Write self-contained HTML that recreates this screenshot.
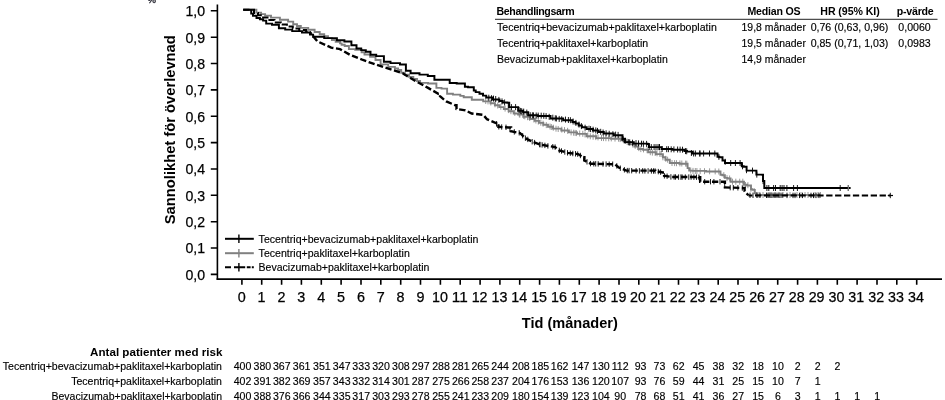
<!DOCTYPE html>
<html lang="sv">
<head>
<meta charset="utf-8">
<title>Kaplan-Meier: Sannolikhet för överlevnad</title>
<style>
html,body{margin:0;padding:0;background:#fff;}
body{width:945px;height:400px;overflow:hidden;}
svg{display:block;font-family:"Liberation Sans", Arial, sans-serif;}
text{fill:#000;}
.tk{font-size:14.7px;stroke:#000;stroke-width:0.25px;}
.ax{font-size:14.6px;font-weight:bold;}
.sm{font-size:10.6px;fill:#000;stroke:#000;stroke-width:0.15px;}
.hd{font-size:10.6px;font-weight:bold;}
.rk{font-size:11.5px;font-weight:bold;}
</style>
</head>
<body>
<svg width="945" height="400" viewBox="0 0 945 400">
<rect width="945" height="400" fill="#fff"/>
<text x="147.6" y="3.2" font-size="9.5" fill="#223" stroke="#223" stroke-width="0.3">%</text>
<g stroke="#000" stroke-width="1.6" fill="none" stroke-linecap="butt">
<path d="M217.4 4.5V279.8"/>
<path d="M216.6 279.15H942" stroke-width="1.7"/>
<path d="M210.8 274.4H217.4M210.8 248.0H217.4M210.8 221.7H217.4M210.8 195.3H217.4M210.8 169.0H217.4M210.8 142.6H217.4M210.8 116.2H217.4M210.8 89.9H217.4M210.8 63.5H217.4M210.8 37.2H217.4M210.8 10.8H217.4"/>
<path d="M241.9 279.2V284.8M261.7 279.2V284.8M281.6 279.2V284.8M301.4 279.2V284.8M321.3 279.2V284.8M341.1 279.2V284.8M361.0 279.2V284.8M380.8 279.2V284.8M400.7 279.2V284.8M420.5 279.2V284.8M440.4 279.2V284.8M460.2 279.2V284.8M480.1 279.2V284.8M499.9 279.2V284.8M519.7 279.2V284.8M539.6 279.2V284.8M559.4 279.2V284.8M579.3 279.2V284.8M599.1 279.2V284.8M619.0 279.2V284.8M638.8 279.2V284.8M658.7 279.2V284.8M678.5 279.2V284.8M698.4 279.2V284.8M718.2 279.2V284.8M738.0 279.2V284.8M757.9 279.2V284.8M777.7 279.2V284.8M797.6 279.2V284.8M817.4 279.2V284.8M837.3 279.2V284.8M857.1 279.2V284.8M877.0 279.2V284.8M896.8 279.2V284.8M916.7 279.2V284.8"/>
</g>
<g class="tk" text-anchor="end">
<text x="205.1" y="16.2" textLength="19.6" lengthAdjust="spacingAndGlyphs">1,0</text>
<text x="205.1" y="42.6" textLength="19.6" lengthAdjust="spacingAndGlyphs">0,9</text>
<text x="205.1" y="68.9" textLength="19.6" lengthAdjust="spacingAndGlyphs">0,8</text>
<text x="205.1" y="95.3" textLength="19.6" lengthAdjust="spacingAndGlyphs">0,7</text>
<text x="205.1" y="121.6" textLength="19.6" lengthAdjust="spacingAndGlyphs">0,6</text>
<text x="205.1" y="148.0" textLength="19.6" lengthAdjust="spacingAndGlyphs">0,5</text>
<text x="205.1" y="174.4" textLength="19.6" lengthAdjust="spacingAndGlyphs">0,4</text>
<text x="205.1" y="200.7" textLength="19.6" lengthAdjust="spacingAndGlyphs">0,3</text>
<text x="205.1" y="227.1" textLength="19.6" lengthAdjust="spacingAndGlyphs">0,2</text>
<text x="205.1" y="253.4" textLength="19.6" lengthAdjust="spacingAndGlyphs">0,1</text>
<text x="205.1" y="279.8" textLength="19.6" lengthAdjust="spacingAndGlyphs">0,0</text>
</g>
<g class="tk" text-anchor="middle">
<text x="241.8" y="302.3" textLength="8.0" lengthAdjust="spacingAndGlyphs">0</text>
<text x="261.6" y="302.3" textLength="8.0" lengthAdjust="spacingAndGlyphs">1</text>
<text x="281.5" y="302.3" textLength="8.0" lengthAdjust="spacingAndGlyphs">2</text>
<text x="301.3" y="302.3" textLength="8.0" lengthAdjust="spacingAndGlyphs">3</text>
<text x="321.2" y="302.3" textLength="8.0" lengthAdjust="spacingAndGlyphs">4</text>
<text x="341.0" y="302.3" textLength="8.0" lengthAdjust="spacingAndGlyphs">5</text>
<text x="360.9" y="302.3" textLength="8.0" lengthAdjust="spacingAndGlyphs">6</text>
<text x="380.7" y="302.3" textLength="8.0" lengthAdjust="spacingAndGlyphs">7</text>
<text x="400.6" y="302.3" textLength="8.0" lengthAdjust="spacingAndGlyphs">8</text>
<text x="420.4" y="302.3" textLength="8.0" lengthAdjust="spacingAndGlyphs">9</text>
<text x="439.9" y="302.3" textLength="15.9" lengthAdjust="spacingAndGlyphs">10</text>
<text x="459.7" y="302.3" textLength="15.9" lengthAdjust="spacingAndGlyphs">11</text>
<text x="479.6" y="302.3" textLength="15.9" lengthAdjust="spacingAndGlyphs">12</text>
<text x="499.4" y="302.3" textLength="15.9" lengthAdjust="spacingAndGlyphs">13</text>
<text x="519.2" y="302.3" textLength="15.9" lengthAdjust="spacingAndGlyphs">14</text>
<text x="539.1" y="302.3" textLength="15.9" lengthAdjust="spacingAndGlyphs">15</text>
<text x="558.9" y="302.3" textLength="15.9" lengthAdjust="spacingAndGlyphs">16</text>
<text x="578.8" y="302.3" textLength="15.9" lengthAdjust="spacingAndGlyphs">17</text>
<text x="598.6" y="302.3" textLength="15.9" lengthAdjust="spacingAndGlyphs">18</text>
<text x="618.5" y="302.3" textLength="15.9" lengthAdjust="spacingAndGlyphs">19</text>
<text x="638.0" y="302.3" textLength="15.9" lengthAdjust="spacingAndGlyphs">20</text>
<text x="657.9" y="302.3" textLength="15.9" lengthAdjust="spacingAndGlyphs">21</text>
<text x="677.7" y="302.3" textLength="15.9" lengthAdjust="spacingAndGlyphs">22</text>
<text x="697.6" y="302.3" textLength="15.9" lengthAdjust="spacingAndGlyphs">23</text>
<text x="717.4" y="302.3" textLength="15.9" lengthAdjust="spacingAndGlyphs">24</text>
<text x="737.2" y="302.3" textLength="15.9" lengthAdjust="spacingAndGlyphs">25</text>
<text x="757.1" y="302.3" textLength="15.9" lengthAdjust="spacingAndGlyphs">26</text>
<text x="776.9" y="302.3" textLength="15.9" lengthAdjust="spacingAndGlyphs">27</text>
<text x="796.8" y="302.3" textLength="15.9" lengthAdjust="spacingAndGlyphs">28</text>
<text x="816.6" y="302.3" textLength="15.9" lengthAdjust="spacingAndGlyphs">29</text>
<text x="836.5" y="302.3" textLength="15.9" lengthAdjust="spacingAndGlyphs">30</text>
<text x="856.3" y="302.3" textLength="15.9" lengthAdjust="spacingAndGlyphs">31</text>
<text x="876.2" y="302.3" textLength="15.9" lengthAdjust="spacingAndGlyphs">32</text>
<text x="896.0" y="302.3" textLength="15.9" lengthAdjust="spacingAndGlyphs">33</text>
<text x="915.9" y="302.3" textLength="15.9" lengthAdjust="spacingAndGlyphs">34</text>
</g>
<text class="ax" x="569.8" y="328.1" text-anchor="middle" textLength="96" lengthAdjust="spacingAndGlyphs">Tid (månader)</text>
<text class="ax" transform="translate(175.2 129.7) rotate(-90)" text-anchor="middle" textLength="189" lengthAdjust="spacingAndGlyphs">Sannolikhet för överlevnad</text>
<g fill="none" stroke-linejoin="miter">
<path d="M243.2 9.7H253.9V9.7H256.4V12.6H259.0H261.1V14.1H263.1H265.1V15.6H267.2H271.0V17.6H274.8H279.9V19.8H285.0H288.1V21.6H291.3H293.2V24.3H295.1H297.0V26.0H300.8V27.9H304.5H308.2V29.8H312.0H314.6V32.0H317.1H319.7V34.3H322.3H324.2V36.2H326.1H328.0V38.1H330.0H331.9V40.0H333.8H335.7V41.9H337.6H340.0V43.4H341.6V44.7H343.1H344.7V46.0H346.3H348.9V49.1H351.4H355.2V49.8H359.0H361.6V52.3H364.5V54.5H367.3H370.1V56.7H373.0H375.5V60.0H378.0H380.6V64.4H383.2H388.2V66.9H393.3H394.9V68.5H396.5H398.1V70.0H399.7H401.2V72.7H402.7H404.8V74.8H406.9H409.0V76.9H411.2H413.3V79.0H415.4H417.0V81.0H418.5H420.1V82.9H421.7H428.0V83.5H434.4H436.4V87.9H438.3H441.5V88.6H444.6H447.1V93.7H452.9V94.6H458.6H460.3V95.9H462.0H463.7V97.2H465.4H471.8V99.7H478.1H483.2V101.4H488.3H490.5V103.3H492.7H494.9V105.2H497.1H499.3V107.1H501.6H503.8V109.0H506.0H508.6V111.2H511.1H513.7V113.5H516.2H518.1V114.6H520.0H523.2V116.8H526.4H529.5V119.0H532.7H534.8V120.9H536.9H539.0V122.9H541.2H543.3V124.8H545.4H548.0V126.7H550.5H553.0V128.6H555.6H561.3V130.5H567.0H568.9V132.4H570.8H577.1V133.9H583.5H586.6V136.2H589.8H596.1V138.1H602.5H610.8V138.7H619.0H621.2V140.3H623.5H625.7V141.9H627.9H630.0V144.2H632.2H634.4V146.5H636.5H638.2V149.0H640.0H643.1V149.7H646.3H648.2V152.2H650.2H655.9V154.1H661.6H662.9V157.3H665.4V159.8H667.9H669.8V163.0H671.7H679.4V163.7H687.0H687.6V168.1H689.2V170.6H690.8H692.5V170.9H706.1V171.5H719.8H720.5V174.7H722.4V175.3H724.3H724.9V177.9H727.5V178.5H730.0H730.6V181.7H743.3V181.7H744.0V184.8H747.1V185.5H750.3H751.0V189.3H752.5V189.9H754.1H754.8V193.1H756.0V195.0H820.5V195.0" stroke="#808080" stroke-width="1.9"/>
<path d="M485.7 98.0v6.0M488.0 98.4v6.0M490.8 99.5v6.0M495.0 101.3v6.0M497.7 102.5v6.0M500.8 103.8v6.0M505.1 105.6v6.0M508.6 107.1v6.0M510.9 108.2v6.0M514.8 109.9v6.0M519.3 111.4v6.0M519.9 111.6v6.0M523.7 112.9v6.0M524.8 113.3v6.0M527.5 114.2v6.0M529.7 115.0v6.0M533.9 116.5v6.0M535.9 117.5v6.0M538.3 118.6v6.0M540.8 119.7v6.0M543.1 120.7v6.0M546.3 122.1v6.0M550.0 123.5v6.0M551.3 124.0v6.0M553.3 124.7v6.0M556.0 125.7v6.0M558.2 126.0v6.0M561.8 126.6v6.0M564.5 127.1v6.0M567.6 127.8v6.0M571.1 129.4v6.0M573.6 129.7v6.0M575.1 129.9v6.0M576.4 130.1v6.0M579.7 130.5v6.0M582.8 130.8v6.0M585.0 131.4v6.0M587.8 132.5v6.0M590.3 133.3v6.0M593.1 133.7v6.0M595.8 134.1v6.0M598.0 134.4v6.0M601.5 135.0v6.0M603.5 135.1v6.0M605.9 135.2v6.0M608.7 135.3v6.0M611.3 135.4v6.0M615.0 135.6v6.0M618.5 135.7v6.0M620.1 136.1v6.0M623.8 137.4v6.0M624.7 137.7v6.0M627.0 138.6v6.0M629.0 139.5v6.0M632.7 141.5v6.0M635.2 142.8v6.0M638.8 145.1v6.0M640.8 146.1v6.0M643.5 146.4v6.0M647.1 147.2v6.0M650.3 149.2v6.0M652.4 149.6v6.0M655.2 150.0v6.0M657.0 150.3v6.0M659.8 150.8v6.0M661.1 151.0v6.0M662.9 154.3v6.0M665.8 155.8v6.0M667.6 156.7v6.0M672.0 160.0v6.0M674.6 160.1v6.0M676.5 160.2v6.0M679.9 160.4v6.0M681.8 160.5v6.0M685.6 160.6v6.0M686.8 160.7v6.0M690.7 167.5v6.0M693.0 167.9v6.0M695.3 168.0v6.0M696.9 168.0v6.0M700.2 168.1v6.0M704.5 168.2v6.0M709.6 168.3v6.0M715.2 168.4v6.0M718.8 168.5v6.0M723.8 172.2v6.0M727.0 175.1v6.0M729.6 175.5v6.0M732.5 178.7v6.0M735.8 178.7v6.0M739.7 178.7v6.0M742.8 178.7v6.0M745.5 182.0v6.0M747.9 182.2v6.0M750.9 185.8v6.0M754.4 188.3v6.0M757.0 192.0v6.0M759.0 192.0v6.0M763.0 192.0v6.0M769.0 192.0v6.0M771.0 192.0v6.0M775.0 192.0v6.0M779.0 192.0v6.0M783.0 192.0v6.0M790.0 192.0v6.0M797.0 192.0v6.0M801.0 192.0v6.0M805.0 192.0v6.0M808.0 192.0v6.0M815.0 192.0v6.0M818.0 192.0v6.0M820.5 192.0v6.0" stroke="#808080" stroke-width="0.8"/>
<path d="M243.2 9.7H252.0V9.7H254.0V13.0H256.0H258.0V15.2H260.0H262.0V17.5H264.0H267.5V20.1H271.0H274.5V22.6H278.0H280.9V24.6H283.9H286.9V26.6H289.8H292.8V28.6H295.7H299.2V30.1H302.6H306.1V31.7H309.6" stroke="#000" stroke-width="2" stroke-dasharray="6.3 2.6"/>
<path d="M309.6 31.7L317.3 41.3L331.2 47.6L340.0 49.1L350.0 54.8L362.9 60.0L371.7 63.1L383.2 66.9L390.8 69.4L402.7 73.3L415.4 81.0L428.1 87.9L438.3 93.7H440.0V96.3L446.3 101.4L455.2 105.2H456.5V109.0L465.4 110.3L471.7 113.5L483.2 114.8L487.0 119.2L495.9 123.0H498.4V126.8L508.6 127.5H511.1V131.3L520.0 133.0L525.1 138.1L532.7 141.9L540.0 144.6L555.2 147.1L559.0 150.3L567.9 152.9L578.1 154.1L583.2 157.3H584.4V160.5L590.8 163.7L614.9 164.3L618.7 167.5L626.3 170.6H655.2V171.0L662.9 172.5H664.1V175.7L671.7 177.0H698.9V177.2H700.2V181.7H724.3V181.7H724.9V187.4L743.3 188.0H744.6V191.2L748.4 195.3" stroke="#000" stroke-width="2.4" stroke-dasharray="6.3 2.6" stroke-dashoffset="3.2"/>
<path d="M748.4 195.4H890.3" stroke="#000" stroke-width="2" stroke-dasharray="6.3 2.6" stroke-dashoffset="2.3"/>
<path d="M496.5 121.2v5.4M498.8 124.1v5.4M501.7 124.3v5.4M506.0 124.6v5.4M509.9 126.8v5.4M514.3 129.2v5.4M519.2 130.1v5.4M522.7 133.0v5.4M525.4 135.5v5.4M527.8 136.7v5.4M532.2 139.0v5.4M534.6 139.9v5.4M540.0 141.9v5.4M539.7 141.8v5.4M542.1 142.2v5.4M544.9 142.7v5.4M547.9 143.2v5.4M552.8 144.0v5.4M555.1 144.4v5.4M559.3 147.7v5.4M561.5 148.3v5.4M564.8 149.3v5.4M567.5 150.1v5.4M570.3 150.5v5.4M572.8 150.8v5.4M575.5 151.1v5.4M577.7 151.4v5.4M580.4 152.8v5.4M583.7 155.9v5.4M587.0 159.1v5.4M590.5 160.9v5.4M593.8 161.1v5.4M595.7 161.1v5.4M598.2 161.2v5.4M603.0 161.3v5.4M606.1 161.4v5.4M609.2 161.5v5.4M612.7 161.5v5.4M616.8 163.2v5.4M620.3 165.5v5.4M624.4 167.1v5.4M627.3 167.9v5.4M629.1 167.9v5.4M631.7 168.0v5.4M636.1 168.0v5.4M639.4 168.1v5.4M642.7 168.1v5.4M644.9 168.2v5.4M648.1 168.2v5.4M651.4 168.2v5.4M653.5 168.3v5.4M655.1 168.3v5.4M658.3 168.9v5.4M660.6 169.4v5.4M664.4 173.1v5.4M667.1 173.5v5.4M670.9 174.2v5.4M674.1 174.3v5.4M675.5 174.3v5.4M678.6 174.4v5.4M680.9 174.4v5.4M682.1 174.4v5.4M685.3 174.4v5.4M688.8 174.4v5.4M691.1 174.4v5.4M693.9 174.5v5.4M696.5 174.5v5.4M698.9 174.5v5.4M699.4 176.2v5.4M704.7 179.0v5.4M710.5 179.0v5.4M713.9 179.0v5.4M720.0 179.0v5.4M724.7 182.8v5.4M730.2 184.9v5.4M733.3 185.0v5.4M737.9 185.1v5.4M742.3 185.3v5.4M750.0 192.6v5.4M753.0 192.6v5.4M757.0 192.6v5.4M760.0 192.6v5.4M766.5 192.6v5.4M768.0 192.6v5.4M770.0 192.6v5.4M772.0 192.6v5.4M774.0 192.6v5.4M776.0 192.6v5.4M778.0 192.6v5.4M780.0 192.6v5.4M782.0 192.6v5.4M787.0 192.7v5.4M793.0 192.7v5.4M795.0 192.7v5.4M799.5 192.7v5.4M802.5 192.7v5.4M811.0 192.7v5.4M813.5 192.7v5.4M816.0 192.7v5.4M819.0 192.7v5.4M890.3 192.8v5.4" stroke="#000" stroke-width="0.9"/>
<path d="M243.2 9.7H248.5V9.7H251.2V13.6H253.0V15.8H254.8H256.5V18.0H258.3H259.9V19.3H261.5H263.1V20.6H264.7H266.2V23.6H267.8H272.0V24.8H276.1H278.9V28.2H281.7H285.2V29.6H288.7H292.2V31.1H295.7H302.0V32.4H308.4H310.0V34.6H311.5H313.1V36.8H314.7H324.2V38.1H333.8H336.9V40.2H340.0H344.4V41.5H348.9H351.4V45.3H354.0H356.5V48.5H359.0H361.2V50.1H363.5H365.8V51.7H368.0H370.5V54.8H376.2V56.1H382.0H383.9V61.8H385.7H390.5V63.1H395.2H400.0V64.4H404.8H405.9V70.8H410.6V73.3H415.4H419.5V74.6H423.6H427.8V75.9H431.9H434.4V79.7H437.0H447.1V79.7H449.7V82.9H456.7V83.5H463.7H464.9V86.7H468.1V87.3H471.3H473.8V90.5H475.7V92.1H477.6H479.5V93.7H481.4H483.0V95.6H484.6H486.2V97.5H487.8H492.9V99.4H497.9H499.5V101.0H501.1H502.7V102.5H504.3H507.3V102.7H509.2V107.1H516.2V107.1H518.1V110.8H520.0H523.1V112.2H526.3H528.2V115.2H530.2H537.8V115.9H545.4H550.5V118.4H555.6H563.2V120.3H570.8H572.4V121.9H574.0H575.5V123.5H577.1H578.7V125.4H580.3H581.9V127.3H583.5H586.7V128.9H589.9H593.0V130.5H596.2H598.7V131.9H601.2H603.8V133.4H606.3H613.8V135.3H621.3H622.5V138.9H625.0V142.1H627.6H633.8V143.6H640.0H647.6V144.0H648.9V147.1H660.3V147.1H661.6V149.0H672.4V149.7H683.2H684.4V151.0H687.0V151.6H689.5H692.0V153.5H716.2V153.5H717.5V156.7H719.3V157.3H721.1H722.5V160.5H725.0V163.0H727.6H741.0V163.0H741.8V166.2H743.7V166.8H745.6H746.6V170.6H755.5V170.6H756.4V174.6H762.4V174.7H763.0V181.0H764.3V181.7H764.3V188.0H850.6V188.0" stroke="#000" stroke-width="1.95"/>
<path d="M488.8 94.7v6.0M491.5 95.2v6.0M493.5 95.6v6.0M495.7 96.0v6.0M498.9 96.9v6.0M502.0 98.4v6.0M504.6 99.5v6.0M508.3 102.0v6.0M511.4 104.1v6.0M515.6 104.1v6.0M519.1 106.9v6.0M520.4 107.9v6.0M521.7 108.2v6.0M523.7 108.6v6.0M526.8 109.6v6.0M530.2 112.2v6.0M532.4 112.3v6.0M533.5 112.4v6.0M536.2 112.5v6.0M538.2 112.6v6.0M541.2 112.7v6.0M543.8 112.8v6.0M546.1 113.1v6.0M549.2 113.8v6.0M552.8 114.7v6.0M555.3 115.3v6.0M556.4 115.5v6.0M559.2 115.9v6.0M561.7 116.2v6.0M565.5 116.6v6.0M568.4 117.0v6.0M570.4 117.2v6.0M573.1 118.5v6.0M575.9 119.9v6.0M579.0 121.6v6.0M581.4 123.1v6.0M585.1 124.7v6.0M589.0 125.7v6.0M590.6 126.1v6.0M593.1 126.7v6.0M595.8 127.4v6.0M597.5 127.9v6.0M600.7 128.8v6.0M603.1 129.5v6.0M606.1 130.3v6.0M609.2 130.8v6.0M612.9 131.2v6.0M615.6 131.6v6.0M618.1 131.9v6.0M622.2 135.0v6.0M623.2 136.3v6.0M625.3 137.7v6.0M628.3 139.2v6.0M629.7 139.4v6.0M632.5 139.7v6.0M636.0 140.1v6.0M638.5 140.4v6.0M641.5 140.7v6.0M643.4 140.8v6.0M646.6 140.9v6.0M649.2 144.1v6.0M651.3 144.1v6.0M654.1 144.1v6.0M656.0 144.1v6.0M658.0 144.1v6.0M659.3 144.1v6.0M659.5 144.1v6.0M662.1 146.0v6.0M666.7 146.2v6.0M668.4 146.2v6.0M671.2 146.3v6.0M673.9 146.4v6.0M677.6 146.5v6.0M680.1 146.6v6.0M682.5 146.7v6.0M685.5 148.1v6.0M686.7 148.3v6.0M691.4 150.0v6.0M693.6 150.5v6.0M695.4 150.5v6.0M700.0 150.5v6.0M699.7 150.5v6.0M703.6 150.5v6.0M709.5 150.5v6.0M714.8 150.5v6.0M718.9 153.9v6.0M725.2 158.8v6.0M730.7 160.0v6.0M735.4 160.0v6.0M740.1 160.0v6.0M742.5 163.3v6.0M746.5 167.2v6.0M752.5 167.6v6.0M756.8 171.6v6.0M763.1 178.1v6.0M766.9 185.0v6.0M768.8 185.0v6.0M773.6 185.0v6.0M775.5 185.0v6.0M780.2 185.0v6.0M782.1 185.0v6.0M784.0 185.0v6.0M786.9 185.0v6.0M793.6 185.0v6.0M797.4 185.0v6.0M840.2 185.0v6.0M848.3 185.0v6.0" stroke="#000" stroke-width="0.9"/>
<path d="M887.8 195.5H893" stroke="#000" stroke-width="1.2"/>
<path d="M848.4 185V191" stroke="#777" stroke-width="1.2"/>
</g>
<g fill="none">
<path d="M225 238.8H253.8" stroke="#000" stroke-width="2"/><path d="M238.9 234.6V243" stroke="#000" stroke-width="1.4"/>
<path d="M225 253.2H253.8" stroke="#808080" stroke-width="2"/><path d="M238.9 249V257.4" stroke="#808080" stroke-width="1.4"/>
<path d="M225 267.2H231M234 267.2H245.2M246.8 267.2H250.6M251.8 267.2H253.8" stroke="#000" stroke-width="2"/><path d="M238.9 263V271.4" stroke="#000" stroke-width="1.4"/>
</g>
<g class="sm">
<text x="258.6" y="242.6" textLength="219.8" lengthAdjust="spacingAndGlyphs">Tecentriq+bevacizumab+paklitaxel+karboplatin</text>
<text x="258.6" y="257.0" textLength="151.2" lengthAdjust="spacingAndGlyphs">Tecentriq+paklitaxel+karboplatin</text>
<text x="258.6" y="270.6" textLength="170.8" lengthAdjust="spacingAndGlyphs">Bevacizumab+paklitaxel+karboplatin</text>
</g>
<path d="M495 19.3H937.5" stroke="#222" stroke-width="1" fill="none"/>
<g class="hd">
<text x="496.6" y="14.8" textLength="78" lengthAdjust="spacing">Behandlingsarm</text>
<text x="774" y="14.8" text-anchor="middle" textLength="53" lengthAdjust="spacing">Median OS</text>
<text x="850" y="14.8" text-anchor="middle" textLength="59.4" lengthAdjust="spacing">HR (95% KI)</text>
<text x="915.2" y="14.8" text-anchor="middle" textLength="37" lengthAdjust="spacing">p-värde</text>
</g>
<g class="sm">
<text x="497" y="31.2" textLength="219.8" lengthAdjust="spacingAndGlyphs">Tecentriq+bevacizumab+paklitaxel+karboplatin</text>
<text x="773.7" y="31.2" text-anchor="middle" textLength="64.3" lengthAdjust="spacingAndGlyphs">19,8 månader</text>
<text x="849.5" y="31.2" text-anchor="middle">0,76 (0,63, 0,96)</text>
<text x="914.5" y="31.2" text-anchor="middle">0,0060</text>
<text x="497" y="47.3" textLength="151.2" lengthAdjust="spacingAndGlyphs">Tecentriq+paklitaxel+karboplatin</text>
<text x="773.7" y="47.3" text-anchor="middle" textLength="64.3" lengthAdjust="spacingAndGlyphs">19,5 månader</text>
<text x="849.5" y="47.3" text-anchor="middle">0,85 (0,71, 1,03)</text>
<text x="914.5" y="47.3" text-anchor="middle">0,0983</text>
<text x="497" y="63.3" textLength="170.8" lengthAdjust="spacingAndGlyphs">Bevacizumab+paklitaxel+karboplatin</text>
<text x="773.7" y="63.3" text-anchor="middle" textLength="64.3" lengthAdjust="spacingAndGlyphs">14,9 månader</text>
</g>
<text class="rk" x="222.4" y="355.8" text-anchor="end" textLength="132.3" lengthAdjust="spacingAndGlyphs">Antal patienter med risk</text>
<g class="sm">
<text x="222" y="369.6" text-anchor="end" textLength="219.2" lengthAdjust="spacingAndGlyphs">Tecentriq+bevacizumab+paklitaxel+karboplatin</text>
<g text-anchor="middle">
<text x="242.5" y="369.6">400</text>
<text x="262.4" y="369.6">380</text>
<text x="281.8" y="369.6">367</text>
<text x="301.6" y="369.6">361</text>
<text x="321.9" y="369.6">351</text>
<text x="341.7" y="369.6">347</text>
<text x="361.2" y="369.6">333</text>
<text x="381.0" y="369.6">320</text>
<text x="400.9" y="369.6">308</text>
<text x="420.7" y="369.6">297</text>
<text x="441.0" y="369.6">288</text>
<text x="460.8" y="369.6">281</text>
<text x="480.3" y="369.6">265</text>
<text x="500.1" y="369.6">244</text>
<text x="520.9" y="369.6">208</text>
<text x="540.4" y="369.6">185</text>
<text x="559.6" y="369.6">162</text>
<text x="580.5" y="369.6">147</text>
<text x="600.9" y="369.6">130</text>
<text x="620.2" y="369.6">112</text>
<text x="640.6" y="369.6">93</text>
<text x="659.5" y="369.6">73</text>
<text x="678.7" y="369.6">62</text>
<text x="698.6" y="369.6">45</text>
<text x="718.4" y="369.6">38</text>
<text x="738.2" y="369.6">32</text>
<text x="758.1" y="369.6">18</text>
<text x="777.9" y="369.6">10</text>
<text x="797.8" y="369.6">2</text>
<text x="817.6" y="369.6">2</text>
<text x="837.5" y="369.6">2</text>
</g>
</g>
<g class="sm">
<text x="222" y="384.7" text-anchor="end" textLength="150.8" lengthAdjust="spacingAndGlyphs">Tecentriq+paklitaxel+karboplatin</text>
<g text-anchor="middle">
<text x="242.5" y="384.7">402</text>
<text x="262.4" y="384.7">391</text>
<text x="281.8" y="384.7">382</text>
<text x="301.6" y="384.7">369</text>
<text x="321.9" y="384.7">357</text>
<text x="341.7" y="384.7">343</text>
<text x="361.2" y="384.7">332</text>
<text x="381.0" y="384.7">314</text>
<text x="400.9" y="384.7">301</text>
<text x="420.7" y="384.7">287</text>
<text x="441.0" y="384.7">275</text>
<text x="460.8" y="384.7">266</text>
<text x="480.3" y="384.7">258</text>
<text x="500.1" y="384.7">237</text>
<text x="520.9" y="384.7">204</text>
<text x="540.4" y="384.7">176</text>
<text x="559.6" y="384.7">153</text>
<text x="580.5" y="384.7">136</text>
<text x="600.9" y="384.7">120</text>
<text x="620.2" y="384.7">107</text>
<text x="640.6" y="384.7">93</text>
<text x="659.5" y="384.7">76</text>
<text x="678.7" y="384.7">59</text>
<text x="698.6" y="384.7">44</text>
<text x="718.4" y="384.7">31</text>
<text x="738.2" y="384.7">25</text>
<text x="758.1" y="384.7">15</text>
<text x="777.9" y="384.7">10</text>
<text x="797.8" y="384.7">7</text>
<text x="817.6" y="384.7">1</text>
</g>
</g>
<g class="sm">
<text x="222" y="399.5" text-anchor="end" textLength="170.5" lengthAdjust="spacingAndGlyphs">Bevacizumab+paklitaxel+karboplatin</text>
<g text-anchor="middle">
<text x="242.5" y="399.5">400</text>
<text x="262.4" y="399.5">388</text>
<text x="281.8" y="399.5">376</text>
<text x="301.6" y="399.5">366</text>
<text x="321.9" y="399.5">344</text>
<text x="341.7" y="399.5">335</text>
<text x="361.2" y="399.5">317</text>
<text x="381.0" y="399.5">303</text>
<text x="400.9" y="399.5">293</text>
<text x="420.7" y="399.5">278</text>
<text x="441.0" y="399.5">255</text>
<text x="460.8" y="399.5">241</text>
<text x="480.3" y="399.5">233</text>
<text x="500.1" y="399.5">209</text>
<text x="520.9" y="399.5">180</text>
<text x="540.4" y="399.5">154</text>
<text x="559.6" y="399.5">139</text>
<text x="580.5" y="399.5">123</text>
<text x="600.9" y="399.5">104</text>
<text x="620.2" y="399.5">90</text>
<text x="640.6" y="399.5">78</text>
<text x="659.5" y="399.5">68</text>
<text x="678.7" y="399.5">51</text>
<text x="698.6" y="399.5">41</text>
<text x="718.4" y="399.5">36</text>
<text x="738.2" y="399.5">27</text>
<text x="758.1" y="399.5">15</text>
<text x="777.9" y="399.5">6</text>
<text x="797.8" y="399.5">3</text>
<text x="817.6" y="399.5">1</text>
<text x="837.5" y="399.5">1</text>
<text x="857.3" y="399.5">1</text>
<text x="877.2" y="399.5">1</text>
</g>
</g>
</svg>
</body>
</html>
